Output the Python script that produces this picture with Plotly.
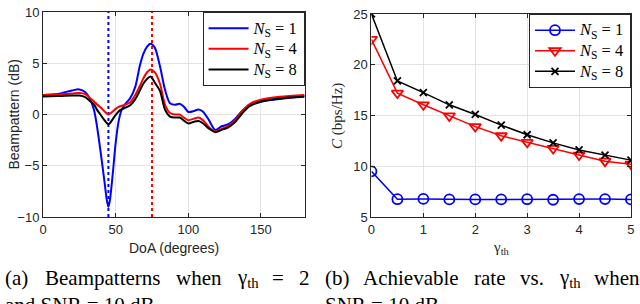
import plotly.graph_objects as go

# ---------------- data ----------------
doa = [0, 10, 20, 25, 29, 32, 35, 37, 39.5, 42, 44, 45, 46, 48, 50, 52, 54, 56.5, 60, 63.5,
       66.7, 69, 71.5, 74, 77, 80.5, 84, 87.4, 91, 94, 97, 100, 104, 107, 110, 114, 118.5,
       123, 127.5, 132, 137, 142, 150, 163, 180]
bp_ns1 = [1.9, 2.0, 2.35, 2.45, 2.2, 1.6, 0.5, -1.0, -3.5, -6.2, -8.4, -9.0, -8.4, -5.8, -2.8,
          -0.7, 0.4, 1.0, 1.6, 2.7, 4.8, 5.9, 6.6, 6.9, 6.5, 4.7, 2.4, 1.1, 0.95, 1.05, 0.75,
          0.25, 0.35, 0.5, 0.3, -0.5, -1.5, -1.15, -0.95, -0.45, 0.35, 0.95, 1.3, 1.5, 1.8]
bp_ns4 = [1.9, 1.95, 2.05, 2.1, 2.0, 1.65, 1.3, 1.0, 0.7, 0.35, 0.08, 0.0, 0.08, 0.3, 0.55,
          0.75, 0.85, 0.95, 1.2, 1.9, 2.8, 3.5, 4.1, 4.4, 4.1, 3.0, 0.95, 0.15, 0.0, 0.0, -0.3,
          -0.55, -0.4, -0.3, -0.55, -1.2, -1.65, -1.4, -1.1, -0.6, 0.3, 1.0, 1.45, 1.73, 1.9]
bp_ns8 = [1.75, 1.8, 1.85, 1.85, 1.7, 1.35, 1.0, 0.5, 0.0, -0.5, -0.85, -0.95, -0.85, -0.45, -0.05,
          0.3, 0.5, 0.65, 0.9, 1.5, 2.35, 3.0, 3.45, 3.7, 3.1, 2.3, 0.45, -0.2, -0.3, -0.3, -0.6,
          -0.88, -0.7, -0.63, -0.85, -1.35, -1.72, -1.5, -1.25, -0.75, 0.1, 0.8, 1.25, 1.57, 1.73]
target_doa = [45, 75]
target_colors = ["#0000ff", "#ff0000"]

gamma_th = [0, 0.5, 1, 1.5, 2, 2.5, 3, 3.5, 4, 4.5, 5]
rate_ns1 = [9.5, 6.75, 6.78, 6.73, 6.73, 6.73, 6.75, 6.7, 6.76, 6.76, 6.73]
rate_ns4 = [22.5, 17.2, 16.05, 14.95, 13.9, 13.0, 12.35, 11.75, 11.1, 10.5, 10.2]
rate_ns8 = [25.0, 18.4, 17.25, 16.05, 15.1, 14.05, 13.1, 12.3, 11.6, 11.1, 10.6]

ns_values = [1, 4, 8]
colors = ["#0000ff", "#ff0000", "#000000"]

caption_a = ["(a)", "Beampatterns", "when", "γ<sub>th</sub>", "=", "2"]
caption_b = ["(b)", "Achievable", "rate", "vs.", "γ<sub>th</sub>", "when"]
caption_a2 = "and SNR = 10 dB"
caption_b2 = "SNR = 10 dB"

labels = ['<span style="font-size:16.5px"><i>N</i><sub>S</sub> = %d</span>' % n for n in ns_values]

# ---------------- figure ----------------
W, H = 640, 304
ml, mr, mt, mb = 43, 8, 5, 87
pw = W - ml - mr
ph = H - mt - mb


def px_x(x):
    return (x - ml) / pw


def px_y(y):
    return (H - mb - y) / ph


fig = go.Figure()

# left: beampatterns
for a, c in zip(target_doa, target_colors):
    fig.add_trace(go.Scatter(x=[a, a], y=[-10, 10], mode="lines",
                             line=dict(color=c, width=2, dash="dot"),
                             showlegend=False, xaxis="x", yaxis="y", hoverinfo="skip"))
for vals, lab, c in zip([bp_ns1, bp_ns4, bp_ns8], labels, colors):
    fig.add_trace(go.Scatter(x=doa, y=vals, mode="lines", name=lab,
                             line=dict(color=c, width=2, shape="spline", smoothing=0.8),
                             xaxis="x", yaxis="y", legend="legend"))

# right: achievable rate
symbols = ["circle-open", "triangle-down-open", "x-thin-open"]
msizes = [10, 10, 7]
for vals, lab, c, s, ms in zip([rate_ns1, rate_ns4, rate_ns8], labels, colors, symbols, msizes):
    fig.add_trace(go.Scatter(x=gamma_th, y=vals, mode="lines+markers", name=lab,
                             line=dict(color=c, width=1.5),
                             marker=dict(symbol=s, size=ms, color=c, line=dict(color=c, width=1.8)),
                             xaxis="x2", yaxis="y2", legend="legend2"))

axis_common = dict(showgrid=True, gridcolor="#e3e3e3", gridwidth=1, zeroline=False,
                   showline=True, linecolor="#262626", linewidth=1, mirror="ticks",
                   ticks="inside", ticklen=4, tickcolor="#262626", ticklabeloverflow="allow",
                   tickfont=dict(family="Liberation Sans, Arial", size=13, color="#262626"))

legend_common = dict(bgcolor="white", bordercolor="#262626", borderwidth=1,
                     font=dict(family="Liberation Serif, DejaVu Serif", size=13.5, color="black"),
                     itemwidth=40, tracegroupgap=0)

fig.update_layout(
    width=W, height=H,
    margin=dict(l=ml, r=mr, t=mt, b=mb),
    paper_bgcolor="white", plot_bgcolor="white",
    xaxis=dict(domain=[0, px_x(305)], range=[0, 180], tickvals=[0, 50, 100, 150],
               anchor="y", **axis_common),
    yaxis=dict(domain=[0, 1], range=[-10.001, 10.001], tickvals=[-10, -5, 0, 5, 10],
               anchor="x", **axis_common),
    xaxis2=dict(domain=[px_x(372), 1], range=[0, 5.0005], tickvals=[0, 1, 2, 3, 4, 5],
                anchor="y2", **axis_common),
    yaxis2=dict(domain=[0, px_y(7)], range=[4.999, 25.001], tickvals=[5, 10, 15, 20, 25],
                anchor="x2", **axis_common),
    legend=dict(x=px_x(305), y=1, xanchor="right", yanchor="top", **legend_common),
    legend2=dict(x=1, y=px_y(7), xanchor="right", yanchor="top", **legend_common),
    showlegend=True,
)

sans = dict(family="Liberation Sans, Arial", size=14, color="#262626")
serif = dict(family="Liberation Serif, DejaVu Serif", size=15, color="#262626")
cap = dict(family="Liberation Serif, Times New Roman", size=21, color="black")

annots = [
    dict(text="Beampattern (dB)", x=px_x(13), y=px_y(111), textangle=-90, font=sans),
    dict(text="DoA (degrees)", x=px_x(174), y=px_y(249), font=sans),
    dict(text="<i>C</i> (bps/Hz)", x=px_x(338), y=px_y(112), textangle=-90, font=serif),
    dict(text="γ<sub>th</sub>", x=px_x(502), y=px_y(249), font=serif),
    dict(text=caption_a2, x=px_x(3), y=px_y(308), xanchor="left", font=cap),
    dict(text=caption_b2, x=px_x(323), y=px_y(308), xanchor="left", font=cap),
]
# justified first caption lines: word left edges (pixels)
pos_a = [3, 43, 174, 235, 270, 297]
pos_b = [323, 362, 473, 519, 558, 593]
for words, poss in [(caption_a, pos_a), (caption_b, pos_b)]:
    for wd, p in zip(words, poss):
        annots.append(dict(text=wd, x=px_x(p), y=px_y(280), xanchor="left", font=cap))

for a in annots:
    a.setdefault("xanchor", "center")
    a.setdefault("yanchor", "middle")
    fig.add_annotation(xref="paper", yref="paper", showarrow=False, **a)

fig.write_html("out.html", config={"displayModeBar": False},
               post_script="document.body.style.margin='0px';")
